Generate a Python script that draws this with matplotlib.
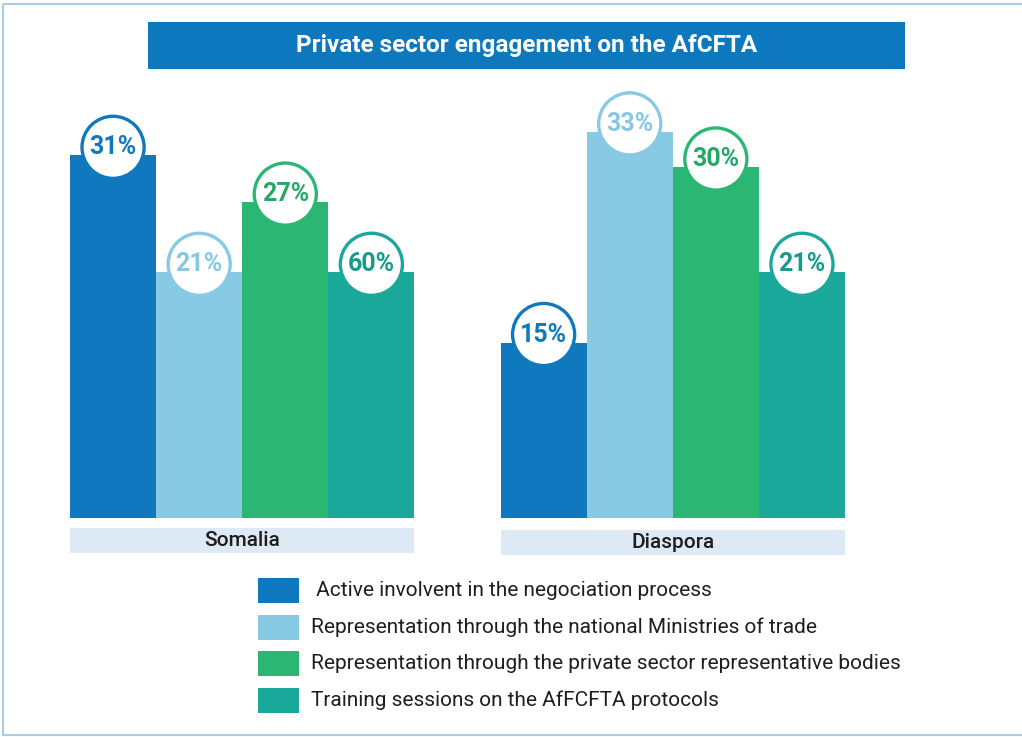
import numpy as np
import matplotlib.pyplot as plt
from matplotlib.patches import Rectangle

plt.rcParams['font.family'] = ['Roboto', 'DejaVu Sans']

# data
groups = ['Somalia', 'Diaspora']
categories = [' Active involvent in the negociation process',
              'Representation through the national Ministries of trade',
              'Representation through the private sector representative bodies',
              'Training sessions on the AfFCFTA protocols']
somalia_heights = [31, 21, 27, 21]
somalia_labels = ['31%', '21%', '27%', '60%']
diaspora_heights = [15, 33, 30, 21]
diaspora_labels = ['15%', '33%', '30%', '21%']
title = 'Private sector engagement on the AfCFTA'

colors = ['#0f78bf', '#88c9e4', '#2bb673', '#1aa89a']
text_colors = ['#0f78bf', '#86c7e3', '#25a866', '#17998c']

W, H = 1022, 737
fig = plt.figure(figsize=(W / 100, H / 100), dpi=100)

# overlay in pixel coordinates for banner, legend, frame
ov = fig.add_axes([0, 0, 1, 1], zorder=0)
ov.set_xlim(0, W)
ov.set_ylim(H, 0)
ov.axis('off')

# frame
ov.add_patch(Rectangle((3, 4), W + 10, 731, fill=False, edgecolor='#a8cde9', linewidth=1.5))

# title banner
ov.add_patch(Rectangle((148, 22), 757, 47, facecolor='#0e78be', edgecolor='none'))
ov.text(527, 45.5, title, color='white', fontsize=17.5, fontweight='bold', ha='center', va='center')

# bars
ax = fig.add_axes([70 / W, (H - 518) / H, 775 / W, 468 / H], zorder=1)
ax.set_xlim(0, 9)
ax.set_ylim(0, 40)
ax.axis('off')
ax.patch.set_alpha(0)

px_per_unit = 468 / 40
all_heights = [somalia_heights, diaspora_heights]
all_labels = [somalia_labels, diaspora_labels]
offsets = [0, 5]

for g in range(2):
    x = offsets[g] + np.arange(4) + 0.5
    ax.bar(x, all_heights[g], width=1.0, color=colors, edgecolor='none', zorder=2)
    cy = np.array(all_heights[g]) + 8 / px_per_unit
    ax.scatter(x, cy, s=2000, facecolor='white', edgecolor=colors, linewidth=2.4,
               zorder=3, clip_on=False)
    for i in range(4):
        ax.text(x[i], cy[i], all_labels[g][i], color=text_colors[i], fontsize=18,
                fontweight='bold', ha='center', va='center', zorder=4)
    # group label box
    y0 = -(10 + 2 * g) / px_per_unit
    ax.add_patch(Rectangle((offsets[g], y0 - 25 / px_per_unit), 4, 25 / px_per_unit,
                           facecolor='#dde9f4', edgecolor='none', clip_on=False))
    ax.text(offsets[g] + 2, y0 - 12.5 / px_per_unit, groups[g], color='#1e1e1e',
            fontsize=15, fontweight='medium', ha='center', va='center')

# legend
for i, lab in enumerate(categories):
    y = 578 + i * 36.5
    ov.add_patch(Rectangle((258, y), 41, 25, facecolor=colors[i], edgecolor='none'))
    ov.text(311, y + 12.5, lab, color='#1e1e1e', fontsize=15, ha='left', va='center')

fig.savefig('out.png', dpi=100)
